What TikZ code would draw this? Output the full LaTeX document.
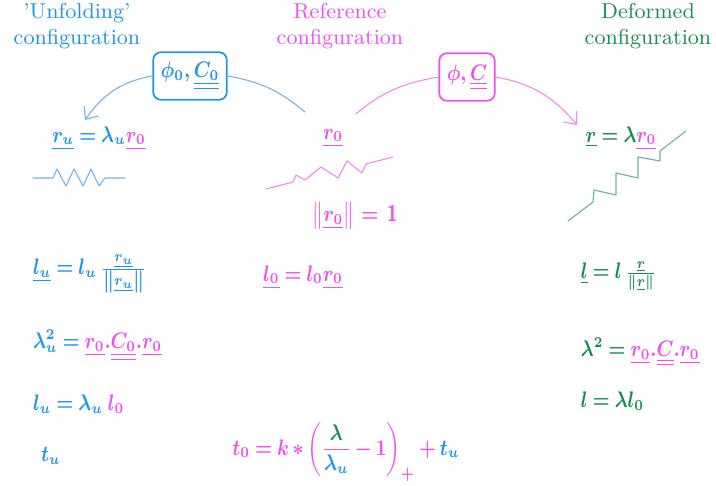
\documentclass[tikz,border=0pt]{standalone}
\usepackage{amsmath, amssymb, bm}
\usepackage{graphicx}
\usepackage{tikz}
\usetikzlibrary{arrows.meta, positioning, calc}
\definecolor{UFblue}{RGB}{30, 150, 230}
\definecolor{REFmag}{RGB}{240, 80, 240}
\definecolor{DEFgreen}{RGB}{25, 140, 85}
\definecolor{UFblueLight}{RGB}{120, 180, 230}
\definecolor{REFmagLight}{RGB}{238, 140, 238}
\definecolor{DEFgreenLight}{RGB}{110, 180, 150}
\newcommand{\vecu}[1]{\underline{#1}}
\newcommand{\tensu}[1]{\underline{\underline{#1}}}
\newcommand{\eqfont}{\small\boldmath\thickmuskip=4mu\medmuskip=3mu}
\newcommand{\narrow}[1]{\scalebox{0.83}[1]{#1}}
\tikzset{every path/.style={line cap=round, line join=round}}

\begin{document}
\begin{tikzpicture}[
    x=0.4pt, y=-0.4pt,
    >={Straight Barb[length=1.4mm, width=2.4mm]},
    header/.style={font=\fontsize{8.6}{10.5}\selectfont, align=center},
    eq/.style={font=\eqfont, inner sep=1pt},
    eqL/.style={eq, anchor=west},
    mapbox/.style={draw, rounded corners=3pt, line width=0.7pt, inner xsep=3pt,
        minimum height=19pt, font=\eqfont},
    arc/.style={line width=0.45pt},
    zig/.style={line width=0.45pt}
]
\useasboundingbox (0,0) rectangle (716,486);

% headers
\node[header, text=UFblue] (hUnfold) at (77,26) {'Unfolding'\\configuration};
\node[header, text=REFmag] (hRef) at (340,26) {Reference\\configuration};
\node[header, text=DEFgreen] (hDef) at (648,26) {Deformed\\configuration};

% mapping boxes
\node[mapbox, draw=UFblue, text=UFblue] (phiZero) at (190,76) {\narrow{$\phi_0,\tensu{C_0}$}};
\node[mapbox, draw=REFmag, text=REFmag] (phiDef) at (467,77) {\narrow{$\phi,\tensu{C}$}};

% direction vectors
\node[eq, text=UFblue] (ruEq) at (99,138) {\narrow{$\vecu{r_u} = \lambda_u\textcolor{REFmag}{\vecu{r_0}}$}};
\node[eq, text=REFmag] (rzEq) at (333,138) {\narrow{$\vecu{r_0}$}};
\node[eq, text=DEFgreen] (rEq) at (621,138) {\narrow{$\vecu{r} = \lambda\textcolor{REFmag}{\vecu{r_0}}$}};
\node[eq, text=REFmag] (normEq) at (355,216) {\narrow{$\left\|\vecu{r_0}\right\| \mathsf{\,=\,1}$}};

% mapping arcs
\coordinate (blueStart) at (305,112);
\coordinate (blueEnd) at (85,120);
\draw[arc, UFblueLight] (blueStart) to[out=140, in=-10] (phiZero.east);
\draw[arc, UFblueLight, ->] (phiZero.west) to[out=190, in=55] (blueEnd);
\coordinate (magStart) at (356,114);
\coordinate (magEnd) at (577,125);
\draw[arc, REFmagLight] (magStart) to[out=40, in=190] (phiDef.west);
\draw[arc, REFmagLight, ->] (phiDef.east) to[out=-10, in=130] (magEnd);

% springs
\draw[zig, UFblueLight] (33,178) -- (53,178) -- (57,169) -- (66,186) -- (74,169)
    -- (83,186) -- (91,169) -- (99,186) -- (105,178) -- (125,178);
\draw[zig, REFmagLight] (266,189) -- (293,182) -- (296,175) -- (305,180) -- (321,167)
    -- (338,178) -- (347,161) -- (362,173) -- (366,164) -- (393,157);
\draw[zig, DEFgreenLight] (568,221) -- (593,202) -- (594,190) -- (616,195) -- (616,173)
    -- (638,178) -- (638,157) -- (660,161) -- (660,151) -- (686,131);

% lengths
\node[eqL, text=UFblue] (luEq) at (30,274) {\narrow{$\vecu{l_u} = l_u\,\frac{\vecu{r_u}}{\left\|\vecu{r_u}\right\|}$}};
\node[eq, text=REFmag] (lzEq) at (303,277) {\narrow{$\vecu{l_0} = l_0\vecu{r_0}$}};
\node[eqL, text=DEFgreen] (lEq) at (578,276) {\narrow{$\vecu{l} = l\,\frac{\vecu{r}}{\|\vecu{r}\|}$}};

% stretches
\node[eqL, text=UFblue] (lamuEq) at (30,345) {\narrow{$\lambda_u^2 = \textcolor{REFmag}{\vecu{r_0}{.}\tensu{C_0}{.}\vecu{r_0}}$}};
\node[eqL, text=DEFgreen] (lamEq) at (578,352) {\narrow{$\lambda^2 = \textcolor{REFmag}{\vecu{r_0}{.}\tensu{C}{.}\vecu{r_0}}$}};
\node[eqL, text=UFblue] (luLen) at (30,404) {\narrow{$l_u = \lambda_u\;\textcolor{REFmag}{l_0}$}};
\node[eqL, text=DEFgreen] (lLen) at (578,401) {\narrow{$l = \lambda l_0$}};

% tensions
\node[eqL, text=UFblue] (tuEq) at (38,456) {\narrow{$t_u$}};
\node[eq, text=REFmag] (tzEq) at (346,452) {\narrow{$t_0 = k \ast \left(\dfrac{\textcolor{DEFgreen}{\lambda}}{\textcolor{UFblue}{\lambda_u}} - 1\right)_{+} + \textcolor{UFblue}{t_u}$}};

\end{tikzpicture}
\end{document}
